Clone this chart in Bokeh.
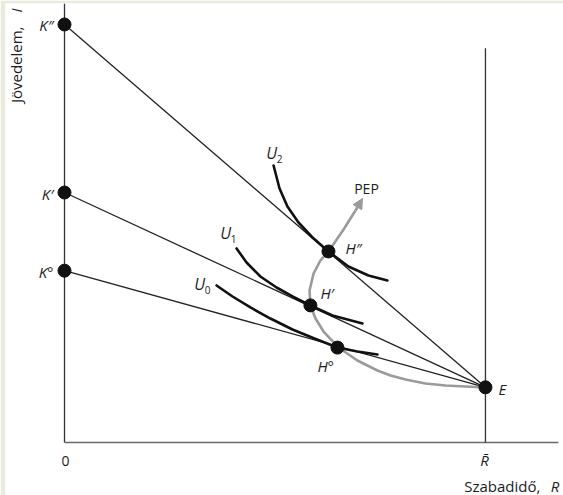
import math
from bokeh.plotting import figure
from bokeh.models import Range1d, Arrow, NormalHead
from bokeh.core.properties import value
from bokeh.embed import file_html
from bokeh.resources import INLINE

# ---- data ----
K_labels = ["K\u2033", "K\u2032", "K\u00b0"]
K_income = [100.0, 59.8, 41.1]
E_R = 24.0          # R-bar (total time)
E_I = 13.2          # non-labour income at E
H_labels = ["H\u2033", "H\u2032", "H\u00b0"]
H_R = [15.05, 14.02, 15.56]
H_I = [45.7, 32.8, 22.7]

U2_R = [11.92, 12.26, 12.71, 13.34, 14.14, 15.05, 16.19, 17.33, 18.41]
U2_I = [66.27, 60.76, 56.46, 52.63, 49.04, 45.69, 42.10, 39.95, 38.76]
U1_R = [9.81, 10.38, 11.17, 12.09, 13.00, 14.02, 15.28, 16.99]
U1_I = [46.41, 43.06, 39.71, 37.08, 34.93, 32.77, 30.38, 28.47]
U0_R = [8.67, 9.58, 10.60, 11.74, 13.00, 14.25, 15.56, 16.70, 17.84]
U0_I = [37.56, 34.93, 32.30, 29.66, 27.03, 24.88, 22.73, 21.77, 21.05]

PEP_R = [24.0, 22.86, 21.72, 20.58, 19.44, 18.59, 17.84, 16.70, 15.62, 14.77,
         14.31, 14.02, 13.97, 14.20, 14.59, 15.05, 15.91, 16.59]
PEP_I = [13.16, 13.40, 13.64, 14.11, 15.07, 16.03, 17.22, 19.62, 22.73, 26.55,
         29.66, 32.77, 36.36, 40.43, 43.54, 45.69, 50.96, 55.50]
PEP_tip = (16.99, 58.37)

U_names = ["U", "U", "U"]
U_subs = ["2", "1", "0"]

X_MIN, X_MAX = -3.364, 28.45
Y_MIN, Y_MAX = -12.68, 105.02
X_AXIS_END = 28.16
RBAR_TOP = 94.3

FONT = value("Open Sans")
TXT = "#1c1c1c"

p = figure(width=563, height=495, output_backend="svg", toolbar_location=None,
           x_range=Range1d(X_MIN, X_MAX), y_range=Range1d(Y_MIN, Y_MAX),
           x_axis_location=None, y_axis_location=None, title=None,
           min_border=0, min_border_left=5, min_border_top=3,
           outline_line_color=None, tools="")
p.grid.visible = False
p.background_fill_color = "white"
p.border_fill_color = "#eaeadd"

# axes
p.segment(x0=[0], y0=[0], x1=[0], y1=[Y_MAX], line_color="#333333", line_width=1.3)
p.segment(x0=[0], y0=[0], x1=[X_AXIS_END], y1=[0], line_color="#6a6a6a", line_width=1.6)
# R-bar vertical line
p.segment(x0=[E_R], y0=[0], x1=[E_R], y1=[RBAR_TOP], line_color="#333333", line_width=1.3)

# budget lines
p.segment(x0=[0, 0, 0], y0=K_income, x1=[E_R] * 3, y1=[E_I] * 3,
          line_color="#222222", line_width=1.3)

# PEP curve
p.line(PEP_R, PEP_I, line_color="#9a9a9a", line_width=2.6, line_join="round")
p.add_layout(Arrow(end=NormalHead(size=10, fill_color="#9a9a9a", line_color="#9a9a9a"),
                   x_start=PEP_R[-1], y_start=PEP_I[-1], x_end=PEP_tip[0], y_end=PEP_tip[1],
                   line_color="#9a9a9a", line_width=2.6))

# indifference curves
for ur, ui in [(U2_R, U2_I), (U1_R, U1_I), (U0_R, U0_I)]:
    p.line(ur, ui, line_color="#111111", line_width=2.6, line_join="round", line_cap="round")

# dots
p.scatter([0, 0, 0], K_income, size=13, color="#111111")
p.scatter(H_R, H_I, size=13, color="#111111")
p.scatter([E_R], [E_I], size=13, color="#111111")

# labels
p.text([0, 0, 0], K_income, text=K_labels, x_offset=-11, y_offset=1,
       text_align="right", text_baseline="middle", text_font=FONT,
       text_font_style="italic", text_font_size="15px", text_color=TXT)
H_xoff = [17, 10, -20]
H_yoff = [-3, -12, 18]
for i in range(3):
    p.text([H_R[i]], [H_I[i]], text=[H_labels[i]], x_offset=H_xoff[i], y_offset=H_yoff[i],
           text_align="left", text_baseline="middle", text_font=FONT,
           text_font_style="italic", text_font_size="15px", text_color=TXT)
p.text([E_R], [E_I], text=["E"], x_offset=13, y_offset=2, text_align="left",
       text_baseline="middle", text_font=FONT, text_font_style="italic",
       text_font_size="15px", text_color=TXT)

U_start = [(U2_R[0], U2_I[0]), (U1_R[0], U1_I[0]), (U0_R[0], U0_I[0])]
U_off = [(-2, -12), (-11, -15), (-17, -1)]
for i in range(3):
    sx, sy = U_start[i]
    ox, oy = U_off[i]
    p.text([sx], [sy], text=[U_names[i]], x_offset=ox, y_offset=oy, text_align="center",
           text_baseline="middle", text_font=FONT, text_font_style="italic",
           text_font_size="16px", text_color=TXT)
    p.text([sx], [sy], text=[U_subs[i]], x_offset=ox + 8, y_offset=oy + 6, text_align="center",
           text_baseline="middle", text_font=FONT, text_font_size="10px", text_color=TXT)

p.text([PEP_tip[0]], [PEP_tip[1]], text=["PEP"], x_offset=4, y_offset=-10,
       text_align="center", text_baseline="middle", text_font=FONT,
       text_font_size="14px", text_color=TXT)

p.text([0], [0], text=["0"], x_offset=1, y_offset=19, text_align="center",
       text_baseline="middle", text_font=FONT, text_font_size="14px", text_color=TXT)
p.text([E_R], [0], text=["R\u0304"], x_offset=-1, y_offset=18, text_align="center",
       text_baseline="middle", text_font=FONT, text_font_style="italic",
       text_font_size="15px", text_color=TXT)

p.text([X_AXIS_END], [0], text=["Szabadid\u0151,"], x_offset=-18, y_offset=44,
       text_align="right", text_baseline="middle", text_font=FONT,
       text_font_size="15px", text_color=TXT)
p.text([X_AXIS_END], [0], text=["R"], x_offset=1, y_offset=44,
       text_align="right", text_baseline="middle", text_font=FONT,
       text_font_style="italic", text_font_size="15px", text_color=TXT)

p.text([0], [Y_MAX], text=["J\u00f6vedelem,"], x_offset=-49, y_offset=23,
       text_align="right", text_baseline="middle", angle=math.pi / 2,
       text_font=FONT, text_font_size="15px", text_color=TXT)
p.text([0], [Y_MAX], text=["I"], x_offset=-49, y_offset=5,
       text_align="right", text_baseline="middle", angle=math.pi / 2,
       text_font=FONT, text_font_style="italic", text_font_size="15px", text_color=TXT)

open("out.html", "w").write(file_html(p, INLINE))
